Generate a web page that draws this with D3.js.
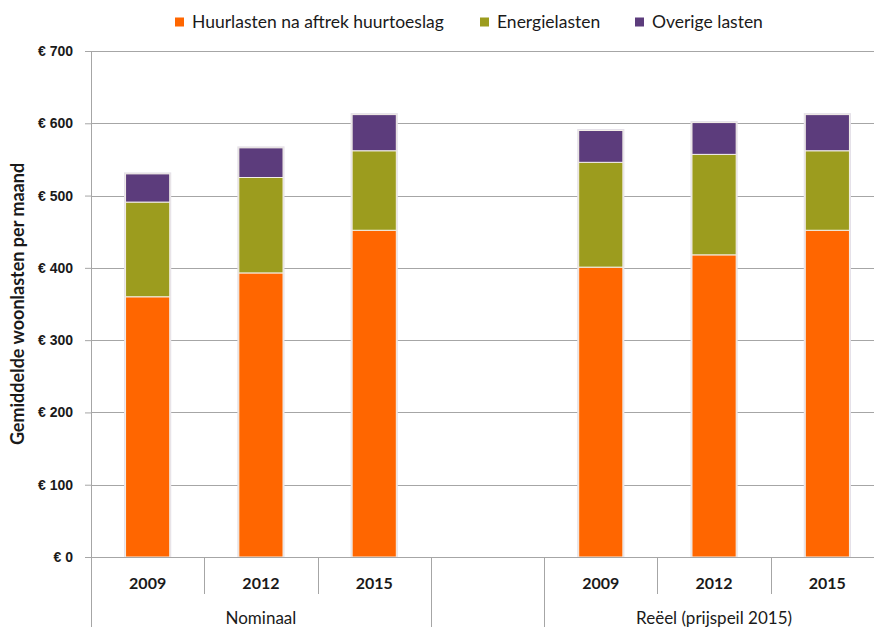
<!DOCTYPE html>
<html>
<head>
<meta charset="utf-8">
<script src="https://cdn.jsdelivr.net/npm/d3@7"></script>
<style>
  body { margin: 0; background: #fff; }
  svg { display: block; font-family: Lato, "Open Sans", sans-serif; }
</style>
</head>
<body>
<div id="chart"></div>
<script>
// data
var slots = ["N2009", "N2012", "N2015", "gap", "R2009", "R2012", "R2015"];
var slotYears = ["2009", "2012", "2015", "", "2009", "2012", "2015"];
var groupNames = ["Nominaal", "Reëel (prijspeil 2015)"];
var groupSlots = [["N2009", "N2015"], ["R2009", "R2015"]];
var barSlots = ["N2009", "N2012", "N2015", "R2009", "R2012", "R2015"];
var huurlasten = [360, 393, 452, 401, 418, 452];
var energielasten = [131, 132, 110, 145, 139, 110];
var overigeLasten = [39, 41, 50, 44, 44, 50];
var seriesNames = ["Huurlasten na aftrek huurtoeslag", "Energielasten", "Overige lasten"];
var seriesColors = ["#ff6600", "#9c9c1e", "#5c3c7c"];
var yTicks = [0, 100, 200, 300, 400, 500, 600, 700];

var width = 874, height = 627;
var margin = { top: 51, right: -10, bottom: 70, left: 91 };
var innerW = width - margin.left - margin.right;
var innerH = height - margin.top - margin.bottom;

var svg = d3.select("#chart").append("svg")
    .attr("width", width)
    .attr("height", height);

var g = svg.append("g")
    .attr("transform", "translate(" + margin.left + "," + margin.top + ")");

var x = d3.scaleBand().domain(slots).range([0, innerW]).padding(0);
var y = d3.scaleLinear().domain([0, 700]).range([innerH, 0]);

// gridlines
g.append("g").selectAll("line")
    .data(yTicks.slice(1))
    .enter().append("line")
    .attr("x1", 0).attr("x2", innerW)
    .attr("y1", function (d) { return Math.round(y(d)) + 0.5; })
    .attr("y2", function (d) { return Math.round(y(d)) + 0.5; })
    .attr("stroke", "#a6a6a6");

// y axis
var yAxis = g.append("g")
    .call(d3.axisLeft(y).tickValues(yTicks).tickSize(6).tickPadding(12)
        .tickFormat(function (d) { return "€ " + d; }));
yAxis.select(".domain").remove();
yAxis.selectAll(".tick line").attr("stroke", "#a6a6a6");
yAxis.selectAll("text")
    .attr("font-size", 14).attr("font-weight", "bold").attr("fill", "#1a1a1a");
g.append("line")
    .attr("x1", 0.5).attr("x2", 0.5).attr("y1", 0).attr("y2", height - margin.top)
    .attr("stroke", "#a6a6a6");

// stacked bars
var rows = barSlots.map(function (s, i) {
    return { slot: s, huur: huurlasten[i], energie: energielasten[i], overig: overigeLasten[i] };
});
var stack = d3.stack().keys(["huur", "energie", "overig"]);
var stacked = stack(rows);
var barW = x.bandwidth() * 0.39;

// soft outline behind each bar
g.append("g").selectAll("rect")
    .data(rows)
    .enter().append("rect")
    .attr("x", function (d) { return x(d.slot) + (x.bandwidth() - barW) / 2 - 1.5; })
    .attr("y", function (d) { return y(d.huur + d.energie + d.overig) - 1.5; })
    .attr("width", barW + 3)
    .attr("height", function (d) { return y(0) - y(d.huur + d.energie + d.overig) + 1.5; })
    .attr("fill", "#e4e0e8");

g.append("g").selectAll("g")
    .data(stacked)
    .enter().append("g")
    .attr("fill", function (d, i) { return seriesColors[i]; })
    .selectAll("rect")
    .data(function (d) { return d; })
    .enter().append("rect")
    .attr("x", function (d) { return x(d.data.slot) + (x.bandwidth() - barW) / 2; })
    .attr("y", function (d) { return y(d[1]); })
    .attr("width", barW)
    .attr("height", function (d) { return y(d[0]) - y(d[1]); })
    .attr("stroke", "#f4f0e8")
    .attr("stroke-width", 1);

// category axis
var xa = g.append("g").attr("transform", "translate(0," + innerH + ")");
xa.append("line")
    .attr("x1", -6).attr("x2", innerW).attr("y1", 0.5).attr("y2", 0.5)
    .attr("stroke", "#a6a6a6");
xa.selectAll(".sep")
    .data(slots.slice(1))
    .enter().append("line")
    .attr("x1", function (d) { return Math.round(x(d)) + 0.5; })
    .attr("x2", function (d) { return Math.round(x(d)) + 0.5; })
    .attr("y1", 0)
    .attr("y2", function (d) { return (d === "gap" || d === "R2009") ? 70 : 37; })
    .attr("stroke", "#a6a6a6");
xa.append("line")
    .attr("x1", innerW - 0.5).attr("x2", innerW - 0.5).attr("y1", 0).attr("y2", 70)
    .attr("stroke", "#a6a6a6");
xa.selectAll(".yr")
    .data(slots)
    .enter().append("text")
    .attr("x", function (d) { return x(d) + x.bandwidth() / 2; })
    .attr("y", 32)
    .attr("text-anchor", "middle")
    .attr("font-size", 16).attr("font-weight", "bold").attr("fill", "#1a1a1a")
    .text(function (d, i) { return slotYears[i]; });
xa.selectAll(".grp")
    .data(groupNames)
    .enter().append("text")
    .attr("x", function (d, i) {
        return (x(groupSlots[i][0]) + x(groupSlots[i][1]) + x.bandwidth()) / 2;
    })
    .attr("y", 67)
    .attr("text-anchor", "middle")
    .attr("font-size", 17).attr("fill", "#1a1a1a")
    .text(function (d) { return d; });

// y title
svg.append("text")
    .attr("transform", "translate(24," + (margin.top + innerH / 2) + ") rotate(-90)")
    .attr("text-anchor", "middle")
    .attr("font-size", 18).attr("font-weight", "bold").attr("fill", "#1a1a1a")
    .text("Gemiddelde woonlasten per maand");

// legend
var legendX = [175, 480, 635];
var legend = svg.append("g").selectAll("g")
    .data(seriesNames)
    .enter().append("g")
    .attr("transform", function (d, i) { return "translate(" + legendX[i] + ",22)"; });
legend.append("rect")
    .attr("x", 0).attr("y", -4.5).attr("width", 9).attr("height", 9)
    .attr("fill", function (d, i) { return seriesColors[i]; });
legend.append("text")
    .attr("x", 17).attr("y", 6)
    .attr("font-size", 17.5).attr("fill", "#1a1a1a")
    .text(function (d) { return d; });
</script>
</body>
</html>
